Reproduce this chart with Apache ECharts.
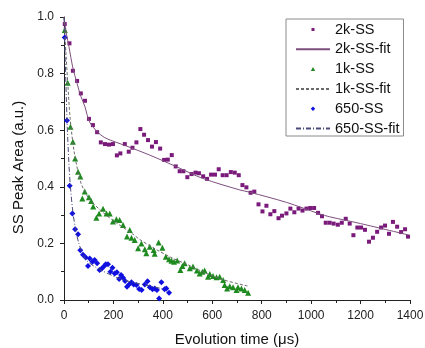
<!DOCTYPE html>
<html><head><meta charset="utf-8">
<script src="https://cdn.jsdelivr.net/npm/echarts@6/dist/echarts.min.js"></script>
<style>html,body{margin:0;padding:0;background:#fff}#c{width:425px;height:348px}</style>
</head><body><div id="c"></div>
<script>
// ---- data ----
const xTicks = [0, 200, 400, 600, 800, 1000, 1200, 1400];
const yTicks = [0.0, 0.2, 0.4, 0.6, 0.8, 1.0];

const x2k = [3,22,36,53,68,85,101,117,134,149,166,182,198,214,228,246,262,277,293,309,324,340,356,372,389,405,420,436,452,468,483,499,516,532,546,563,579,595,611,626,642,658,675,691,707,722,738,755,770,787,803,819,835,851,868,882,900,916,932,949,965,981,996,1012,1028,1044,1059,1075,1091,1108,1124,1140,1156,1171,1187,1202,1218,1234,1250,1267,1283,1299,1315,1331,1348,1364,1380,1392];
const y2k = [0.975,0.907,0.81,0.774,0.73,0.704,0.64,0.618,0.593,0.557,0.551,0.549,0.551,0.511,0.518,0.551,0.524,0.538,0.557,0.604,0.584,0.565,0.542,0.558,0.535,0.495,0.496,0.512,0.472,0.455,0.455,0.434,0.445,0.45,0.448,0.437,0.428,0.443,0.443,0.462,0.441,0.441,0.452,0.45,0.441,0.406,0.398,0.379,0.383,0.338,0.313,0.333,0.303,0.314,0.289,0.298,0.306,0.323,0.31,0.323,0.316,0.323,0.325,0.325,0.308,0.296,0.273,0.273,0.27,0.266,0.273,0.287,0.27,0.229,0.256,0.256,0.248,0.206,0.22,0.241,0.256,0.263,0.234,0.276,0.259,0.24,0.25,0.224];

const x2kFit = [0,10,20,36,53,68,84,104,140,171,250,347,455,560,711,751,900,1035,1075,1200,1393];
const y2kFit = [1.0,0.94,0.895,0.82,0.765,0.72,0.685,0.628,0.59,0.571,0.545,0.512,0.471,0.43,0.389,0.381,0.345,0.304,0.294,0.27,0.23];

const x1k = [3,15,26,36,45,57,66,74,84,101,110,118,131,142,158,172,185,198,212,225,239,255,266,273,286,300,313,327,333,347,363,367,383,398,412,425,435,445,458,471,479,488,509,522,538,549,560,569,583,590,603,617,630,644,650,660,671,684,698,704,718,731,745];
const y1k = [0.954,0.768,0.612,0.559,0.5,0.453,0.436,0.359,0.383,0.363,0.35,0.33,0.291,0.306,0.322,0.306,0.306,0.277,0.285,0.283,0.265,0.224,0.247,0.22,0.212,0.183,0.2,0.179,0.165,0.188,0.177,0.163,0.203,0.185,0.153,0.144,0.139,0.135,0.14,0.106,0.12,0.13,0.112,0.118,0.104,0.094,0.1,0.104,0.082,0.092,0.085,0.08,0.082,0.071,0.053,0.041,0.049,0.045,0.035,0.045,0.041,0.035,0.026];

const x1kFit = [0,8,15,25,40,55,70,100,144,200,280,306,370,441,500,576,650,745];
const y1kFit = [1.0,0.87,0.77,0.64,0.53,0.46,0.41,0.36,0.32,0.28,0.232,0.214,0.18,0.147,0.125,0.094,0.07,0.049];

const x650 = [3,12,23,34,45,57,66,77,88,97,104,115,124,134,144,152,161,169,178,188,196,205,214,223,231,239,247,255,263,273,282,293,304,314,327,338,347,358,367,376,385,394,407,414,425];
const y650 = [0.928,0.634,0.404,0.306,0.25,0.232,0.176,0.16,0.15,0.12,0.147,0.135,0.141,0.13,0.106,0.11,0.118,0.126,0.126,0.1,0.114,0.094,0.098,0.074,0.088,0.079,0.067,0.047,0.055,0.063,0.055,0.053,0.039,0.035,0.055,0.066,0.045,0.038,0.041,0.035,0.005,0.063,0.038,0.041,0.026];

const x650Fit = [0,5,12,20,26,36,47,60,75,91,130,212,280,347,401];
const y650Fit = [1.0,0.85,0.64,0.48,0.40,0.31,0.25,0.2,0.165,0.14,0.115,0.08,0.062,0.05,0.039];

const seriesNames = ['2k-SS','2k-SS-fit','1k-SS','1k-SS-fit','650-SS','650-SS-fit'];
const xTitle = 'Evolution time (\u03bcs)';
const yTitle = 'SS Peak Area (a.u.)';

const zip = (xs, ys) => xs.map((x, i) => [x, ys[i]]);

const font = 'Liberation Sans, Arial, sans-serif';
const C2K = '#7a1a7a', C2KF = '#7d4f7d', C1K = '#1f8a1f', C1KF = '#6a6a6a', C650 = '#1010e0', C650F = '#4a4a7a';
const hidden = {color: 'rgba(0,0,0,0)', borderColor: 'rgba(0,0,0,0)', borderWidth: 0};
// small legend markers: invisible corner points keep the icon box at 34x15
const boxPath = 'M0,0L0,0M34,15L34,15';
const chart = echarts.init(document.getElementById('c'), null, {renderer: 'canvas'});
chart.setOption({
  animation: false,
  backgroundColor: '#fff',
  textStyle: {fontFamily: font},
  grid: {left: 64, right: 15, top: 17, bottom: 48, containLabel: false, outerBoundsMode: 'none'},
  legend: {
    orient: 'vertical', left: 286, top: 19,
    padding: [3, 4, 0, 9],
    borderColor: '#8a8a8a', borderWidth: 1, backgroundColor: '#fff',
    itemWidth: 34, itemHeight: 15, itemGap: 4.8,
    textStyle: {fontFamily: font, fontSize: 14.5, lineHeight: 15, color: '#111'},
    data: [
      {name: seriesNames[0], icon: 'path://' + boxPath + 'M15.5,6h3v3h-3z', itemStyle: {color: C2K, borderWidth: 0}},
      {name: seriesNames[1], itemStyle: hidden},
      {name: seriesNames[2], icon: 'path://' + boxPath + 'M17,5.3L19.2,9.3L14.8,9.3Z', itemStyle: {color: C1K, borderWidth: 0}},
      {name: seriesNames[3], itemStyle: hidden},
      {name: seriesNames[4], icon: 'path://' + boxPath + 'M17,5.3L19.2,7.5L17,9.7L14.8,7.5Z', itemStyle: {color: C650, borderWidth: 0}},
      {name: seriesNames[5], itemStyle: hidden}
    ]
  },
  xAxis: {
    type: 'value', min: 0, max: 1400, interval: 200,
    name: xTitle, nameLocation: 'middle', nameGap: 32,
    nameTextStyle: {fontFamily: font, fontSize: 15, color: '#111'},
    axisLine: {lineStyle: {color: '#222', width: 1}},
    axisTick: {show: true, length: 4, inside: false, lineStyle: {color: '#222'}},
    minorTick: {show: true, splitNumber: 2, length: 3, lineStyle: {color: '#222'}},
    splitLine: {show: false},
    axisLabel: {fontFamily: font, fontSize: 12, color: '#222', margin: 10,
      customValues: xTicks, formatter: v => String(v)}
  },
  yAxis: {
    type: 'value', min: 0, max: 1.0, interval: 0.2,
    name: yTitle, nameLocation: 'middle', nameGap: 32,
    nameTextStyle: {fontFamily: font, fontSize: 15, color: '#111', padding: [0, 18, 0, 0]},
    axisLine: {show: true, lineStyle: {color: '#222', width: 1}},
    axisTick: {show: true, length: 4, inside: false, lineStyle: {color: '#222'}},
    minorTick: {show: true, splitNumber: 2, length: 3, lineStyle: {color: '#222'}},
    splitLine: {show: false},
    axisLabel: {fontFamily: font, fontSize: 12, color: '#222', margin: 10,
      customValues: yTicks, formatter: v => v.toFixed(1)}
  },
  series: [
    {name: seriesNames[0], type: 'scatter', data: zip(x2k, y2k), symbol: 'rect', symbolSize: 4,
      itemStyle: {color: C2K, opacity: 1}, z: 3},
    {name: seriesNames[1], type: 'line', data: zip(x2kFit, y2kFit), smooth: 0.3, showSymbol: false, symbol: 'none',
      lineStyle: {color: C2KF, width: 1}, itemStyle: {color: C2KF}, z: 4},
    {name: seriesNames[2], type: 'scatter', data: zip(x1k, y1k), symbol: 'triangle', symbolSize: 6,
      itemStyle: {color: C1K, opacity: 1}, z: 3},
    {name: seriesNames[3], type: 'line', data: zip(x1kFit, y1kFit), smooth: 0.3, showSymbol: false, symbol: 'none',
      lineStyle: {color: C1KF, width: 1, type: [3, 2]}, itemStyle: {color: C1KF}, z: 4},
    {name: seriesNames[4], type: 'scatter', data: zip(x650, y650), symbol: 'diamond', symbolSize: 6,
      itemStyle: {color: C650, opacity: 1}, z: 3},
    {name: seriesNames[5], type: 'line', data: zip(x650Fit, y650Fit), smooth: 0.3, showSymbol: false, symbol: 'none',
      lineStyle: {color: C650F, width: 1, type: [5, 2, 1, 2]}, itemStyle: {color: C650F}, z: 4}
  ]
});
</script></body></html>
